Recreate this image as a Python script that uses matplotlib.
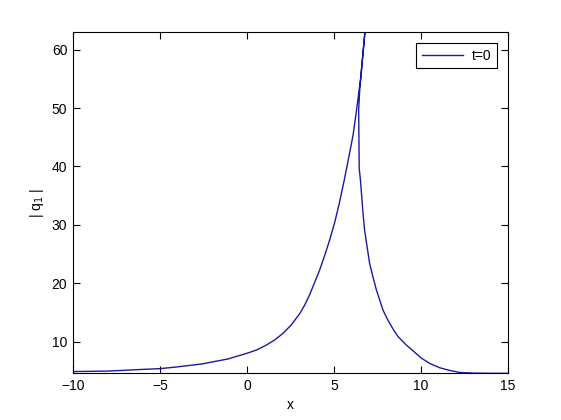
import matplotlib.pyplot as plt

plt.rcParams['font.family'] = ['Liberation Sans', 'DejaVu Sans']

# |q1| at t=0, left flank up to the peak
x_left = [-10, -8, -6, -5, -4, -2.6, -1.1, -0.03, 0.54, 1.11, 1.59, 2.07,
          2.55, 3.03, 3.32, 3.61, 4.18, 4.47, 4.75, 5.04, 5.3, 5.6, 5.8,
          6.1, 6.3, 6.53, 6.78]
q_left = [4.9, 4.98, 5.27, 5.4, 5.7, 6.2, 7.05, 8.0, 8.58, 9.43, 10.3, 11.44,
          12.9, 14.8, 16.3, 18.1, 22.3, 24.8, 27.4, 30.4, 33.6, 37.8, 40.8,
          45.4, 49.7, 55.0, 63.03]

# right flank, from the peak back down
x_right = [6.78, 6.48, 6.42, 6.45, 6.52, 6.67, 6.76, 7.05, 7.24, 7.44, 7.82,
           8.1, 8.39, 8.68, 9.16, 9.54, 10.02, 10.5, 11.08, 11.65, 12.22,
           13.0, 14.0, 15.0]
q_right = [63.03, 53.1, 49.7, 39.7, 37.7, 32.0, 29.1, 23.4, 21.1, 18.85, 15.4,
           13.7, 12.2, 10.9, 9.43, 8.46, 7.2, 6.3, 5.55, 5.1, 4.75,
           4.64, 4.6, 4.6]

x = x_left + x_right[1:]
q = q_left + q_right[1:]

fig = plt.figure(figsize=(5.61, 4.2), dpi=100)
ax = fig.add_axes([0.13, 0.111, 0.7755, 0.813])
ax.plot(x, q, color='#1a1aa0', lw=1, label='t=0')

ax.set_xlim(-10, 15)
ax.set_ylim(4.59, 63.03)
ax.set_xticks([-10, -5, 0, 5, 10, 15])
ax.set_yticks([10, 20, 30, 40, 50, 60])
ax.tick_params(direction='in', length=5, width=0.8, top=True, right=True,
               labelsize=10, pad=4)
for s in ax.spines.values():
    s.set_linewidth(0.8)

ax.set_xlabel('x', fontsize=10)
ax.set_ylabel('| q$_1$ |', fontsize=10)

leg = ax.legend(loc='upper right', fontsize=10, fancybox=False,
                edgecolor='black', framealpha=1, handlelength=3.0,
                handletextpad=0.6, borderaxespad=0.8)
leg.get_frame().set_linewidth(0.8)

fig.savefig('out.png', dpi=100)
